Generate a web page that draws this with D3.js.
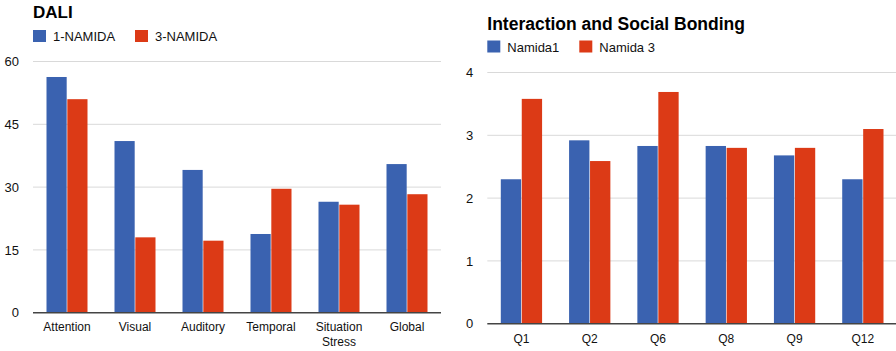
<!DOCTYPE html>
<html><head><meta charset="utf-8">
<script src="https://cdn.jsdelivr.net/npm/d3@7"></script>
<style>
html,body{margin:0;padding:0;background:#fff;}
svg{display:block;font-family:"Liberation Sans",Arial,sans-serif;}
</style></head>
<body>
<svg id="c" width="896" height="351"></svg>
<script>
// ---- Data ----
const daliCategories = ["Attention", "Visual", "Auditory", "Temporal", "Situation Stress", "Global"];
const daliSeriesNames = ["1-NAMIDA", "3-NAMIDA"];
const dali1 = [56.3, 41.0, 34.1, 18.8, 26.5, 35.5];
const dali3 = [51.0, 18.0, 17.2, 29.6, 25.8, 28.3];
const daliTicks = [0, 15, 30, 45, 60];

const isbCategories = ["Q1", "Q2", "Q6", "Q8", "Q9", "Q12"];
const isbSeriesNames = ["Namida1", "Namida 3"];
const isb1 = [2.30, 2.92, 2.83, 2.83, 2.68, 2.30];
const isb3 = [3.58, 2.59, 3.69, 2.80, 2.80, 3.10];
const isbTicks = [0, 1, 2, 3, 4];

const colors = ["#3a62b0", "#dc3a16"];

const svg = d3.select("#c");

function drawChart(cfg) {
  const g = svg.append("g");
  const x = d3.scaleBand().domain(cfg.categories).range([cfg.left, cfg.right]).padding(0);
  const inner = d3.scaleBand().domain([0, 1]).range([13.5, x.bandwidth() - 13.5]).paddingInner(0.03);
  const y = d3.scaleLinear().domain([0, cfg.ticks[cfg.ticks.length - 1]]).range([cfg.bottom, cfg.top]);

  // title
  g.append("text").attr("x", cfg.left).attr("y", cfg.titleY)
    .attr("font-size", cfg.titleSize).attr("font-weight", "bold").attr("fill", "#000")
    .text(cfg.title);

  // legend
  cfg.seriesNames.forEach((name, i) => {
    const lx = cfg.left + i * cfg.legendStep;
    g.append("rect").attr("x", lx).attr("y", cfg.legendY - 12).attr("width", 13).attr("height", 12)
      .attr("fill", colors[i]);
    g.append("text").attr("x", lx + 20).attr("y", cfg.legendY - 1)
      .attr("font-size", 13).attr("fill", "#111").text(name);
  });

  // gridlines
  g.append("g").selectAll("line").data(cfg.ticks.filter(t => t !== 0)).join("line")
    .attr("x1", cfg.left).attr("x2", cfg.right)
    .attr("y1", d => y(d)).attr("y2", d => y(d))
    .attr("stroke", "#d9d9d9").attr("stroke-width", 1);

  // y axis labels
  const yAxis = d3.axisLeft(y).tickValues(cfg.ticks).tickFormat(d3.format("d")).tickSize(0).tickPadding(14);
  const ya = g.append("g").attr("transform", `translate(${cfg.left},0)`).call(yAxis);
  ya.select(".domain").remove();
  ya.selectAll("text").attr("font-size", 13).attr("fill", "#111")
    .attr("font-family", "'Liberation Sans',Arial,sans-serif");

  // bars
  const data = cfg.categories.map((c, i) => ({ c, v: [cfg.s1[i], cfg.s3[i]] }));
  const grp = g.append("g").selectAll("g").data(data).join("g")
    .attr("transform", d => `translate(${x(d.c)},0)`);
  grp.selectAll("rect").data(d => d.v.map((v, k) => ({ v, k }))).join("rect")
    .attr("x", d => inner(d.k)).attr("width", inner.bandwidth())
    .attr("y", d => y(d.v)).attr("height", d => y(0) - y(d.v))
    .attr("fill", d => colors[d.k]);

  // baseline
  g.append("line").attr("x1", cfg.left).attr("x2", cfg.right)
    .attr("y1", y(0)).attr("y2", y(0)).attr("stroke", "#444").attr("stroke-width", 1.5);

  // x labels
  const xl = g.append("g").selectAll("text").data(cfg.categories).join("text")
    .attr("x", d => x(d) + x.bandwidth() / 2).attr("y", y(0) + cfg.xLabelOffset)
    .attr("text-anchor", "middle").attr("font-size", 12).attr("fill", "#111");
  xl.each(function (d) {
    const words = d.split(" ");
    const t = d3.select(this);
    words.forEach((w, i) => {
      t.append("tspan").attr("x", x(d) + x.bandwidth() / 2).attr("dy", i === 0 ? 0 : 15).text(w);
    });
  });
}

drawChart({
  title: "DALI", titleY: 18, titleSize: 17,
  categories: daliCategories, seriesNames: daliSeriesNames, s1: dali1, s3: dali3, ticks: daliTicks,
  left: 33, right: 441, top: 61.5, bottom: 312.7,
  legendY: 42, legendStep: 102, xLabelOffset: 18.5
});

drawChart({
  title: "Interaction and Social Bonding", titleY: 29.5, titleSize: 17.5,
  categories: isbCategories, seriesNames: isbSeriesNames, s1: isb1, s3: isb3, ticks: isbTicks,
  left: 487.3, right: 897, top: 72.5, bottom: 323.7,
  legendY: 52.5, legendStep: 92, xLabelOffset: 19
});
</script>
</body></html>
